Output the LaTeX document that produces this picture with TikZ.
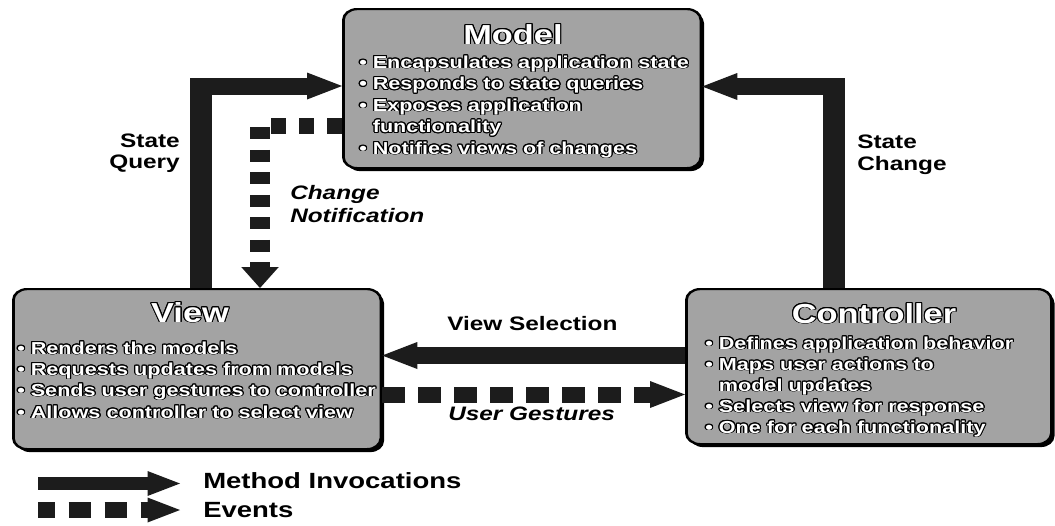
\documentclass[tikz,border=0pt]{standalone}
\usepackage{fontspec}
\setmainfont{Liberation Sans}
\setsansfont{Liberation Sans}
\usepackage{contour}
\contourlength{0.9pt}
\contournumber{16}
\usetikzlibrary{arrows.meta,shadows}
\definecolor{boxgray}{RGB}{163,163,163}
\definecolor{arrowcol}{RGB}{28,28,28}
\tikzset{
  box/.style={draw=black, line width=2.2pt, fill=boxgray, rounded corners=11pt,
    drop shadow={shadow xshift=2.5pt, shadow yshift=-3pt, opacity=1, fill=black},
    inner sep=0pt, anchor=north west},
  ttl/.style={text=white, font=\bfseries\fontsize{27.5}{30}\selectfont, anchor=base, inner sep=0pt},
  itm/.style={text=white, font=\bfseries\fontsize{17.3}{20}\selectfont, anchor=base west, inner sep=0pt},
  lbl/.style={text=black, font=\bfseries\fontsize{19.5}{22}\selectfont, inner sep=0pt},
  ilbl/.style={text=black, font=\bfseries\itshape\fontsize{19.5}{22}\selectfont, inner sep=0pt, anchor=base west},
  legtxt/.style={text=black, font=\bfseries\fontsize{22}{24}\selectfont, anchor=base west, inner sep=0pt},
  fat/.style={draw=arrowcol, line width=17pt},
  fatdash/.style={draw=arrowcol, line width=16pt},
  htip/.style={-{Triangle[length=28pt,width=27pt,line width=0pt]}},
  vtip/.style={-{Triangle[length=21pt,width=30pt,line width=0pt]}},
}
\newcommand{\wt}[1]{\contour{black}{#1}}
\begin{document}
\begin{tikzpicture}
\useasboundingbox (0pt,0pt) rectangle (1055pt,-525pt);
\begin{scope}[x=0.8pt, y=-1pt, transform canvas={xscale=1.25}]
% boxes
\node[box, minimum width=286pt, minimum height=159pt] (model) at (342,8) {};
\node[box, minimum width=294pt, minimum height=160pt] (view) at (12,288) {};
\node[box, minimum width=292pt, minimum height=155pt] (ctrl) at (685,288) {};

% model texts
\node[ttl] (mt) at (513,44) {\wt{Model}};
\node[itm] (m1) at (359,68) {\wt{\textbullet\ Encapsulates application state}};
\node[itm] (m2) at (359,89.5) {\wt{\textbullet\ Responds to state queries}};
\node[itm] (m3) at (359,111) {\wt{\textbullet\ Exposes application}};
\node[itm] (m4) at (359,132.5) {\wt{\phantom{\textbullet\ }functionality}};
\node[itm] (m5) at (359,154) {\wt{\textbullet\ Notifies views of changes}};

% view texts
\node[ttl] (vt) at (190,322) {\wt{View}};
\node[itm] (v1) at (17,354) {\wt{\textbullet\ Renders the models}};
\node[itm] (v2) at (17,375) {\wt{\textbullet\ Requests updates from models}};
\node[itm] (v3) at (17,396) {\wt{\textbullet\ Sends user gestures to controller}};
\node[itm] (v4) at (17,418) {\wt{\textbullet\ Allows controller to select view}};

% controller texts
\node[ttl] (ct) at (874,323) {\wt{Controller}};
\node[itm] (c1) at (705,349) {\wt{\textbullet\ Defines application behavior}};
\node[itm] (c2) at (705,370) {\wt{\textbullet\ Maps user actions to}};
\node[itm] (c3) at (705,391) {\wt{\phantom{\textbullet\ }model updates}};
\node[itm] (c4) at (705,412) {\wt{\textbullet\ Selects view for response}};
\node[itm] (c5) at (705,433) {\wt{\textbullet\ One for each functionality}};

% helper coordinates
\coordinate (sq) at (201,86);
\coordinate (sc) at (834,86.5);
\coordinate (vs) at (0,355.5);
\coordinate (ug) at (0,394.5);
\coordinate (cn) at (260,125.5);

% connectors
\draw[fat, htip] (view.north -| sq) |- (model.west |- sq);
\draw[fat, htip] (ctrl.north -| sc) |- (model.east |- sc);
\draw[fat, htip] (ctrl.west |- vs) -- (view.east |- vs);
\draw[fatdash, htip, dash pattern=on 18pt off 10.8pt] (view.east |- ug) -- (ctrl.west |- ug);
\draw[fatdash, vtip, dash pattern=on 12pt off 10.5pt] (model.west |- cn) -| (view.north -| cn);

% labels
\node[lbl, anchor=base east] (sq1) at (180,147) {State};
\node[lbl, anchor=base east] (sq2) at (180,168) {Query};
\node[lbl, anchor=base west] (sc1) at (857,148) {State};
\node[lbl, anchor=base west] (sc2) at (857,170) {Change};
\node[ilbl] (cn1) at (290,199) {Change};
\node[ilbl] (cn2) at (290,222) {Notification};
\node[lbl, anchor=base west] (vsl) at (447,330) {View Selection};
\node[ilbl] (ugl) at (448,420) {User Gestures};

% legend
\coordinate (l1a) at (38,483.5);
\coordinate (l1b) at (180,483.5);
\coordinate (l2a) at (38,510);
\coordinate (l2b) at (180,510);
\draw[draw=arrowcol, line width=13pt, -{Triangle[length=26pt,width=25pt,line width=0pt]}] (l1a) -- (l1b);
\draw[draw=arrowcol, line width=16pt, dash pattern=on 18pt off 10.8pt, dash phase=4.4pt, -{Triangle[length=26pt,width=25pt,line width=0pt]}] (l2a) -- (l2b);
\node[legtxt] (lg1) at (203,488) {Method Invocations};
\node[legtxt] (lg2) at (203,517) {Events};
\end{scope}
\end{tikzpicture}
\end{document}
